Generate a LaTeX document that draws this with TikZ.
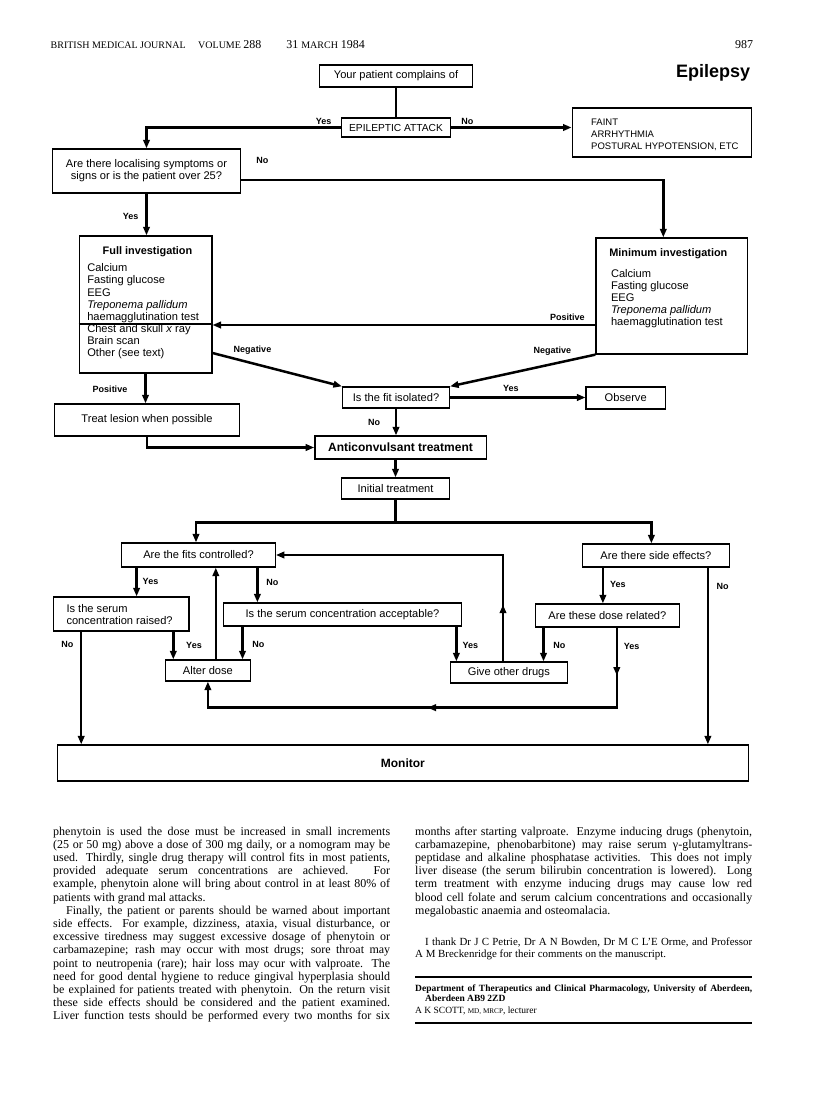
\documentclass[tikz,border=0pt]{standalone}
\usepackage{fontspec}
\setmainfont{Liberation Serif}
\newfontfamily\chartfont{Liberation Sans}
\usetikzlibrary{arrows.meta,decorations.markings}

% one justified line of a column
\newcommand{\jl}[1]{\hbox to \hsize{#1}}
\newcommand{\bodyfont}{\fontsize{12}{13.2}\selectfont}
\newcommand{\capsz}[1]{{\fontsize{7.2}{9}\selectfont #1}}

\begin{document}
\begin{tikzpicture}[x=1pt, y=-1pt,
  box/.style={draw, line width=1.3pt, inner sep=0pt, font=\chartfont\fontsize{11.1}{12.1}\selectfont},
  boldbox/.style={box, font=\chartfont\bfseries\fontsize{12}{14}\selectfont},
  txt/.style={inner sep=0pt, anchor=base west, font=\chartfont\fontsize{11.1}{12.1}\selectfont},
  lbl/.style={inner sep=0pt, font=\chartfont\bfseries\fontsize{9}{10}\selectfont},
  conn/.style={line width=2.5pt},
  tip/.style={-{Triangle[length=8.5pt,width=6.5pt]}},
  plain/.style={inner sep=0pt, anchor=base west}
]
\fill[white] (0,0) rectangle (816,1095);
\useasboundingbox (0,0) rectangle (816,1095);

% running head
\node[plain, font=\fontsize{10}{12}\selectfont] (hjournal) at (50.5,48) {BRITISH MEDICAL JOURNAL};
\node[plain, font=\fontsize{10}{12}\selectfont] (hvolume) at (198,48) {VOLUME {\fontsize{12}{14}\selectfont 288}};
\node[plain, font=\fontsize{12}{14}\selectfont] (hdate) at (286.1,48) {31 {\fontsize{10}{12}\selectfont MARCH} 1984};
\node[plain, anchor=base east, font=\fontsize{12}{14}\selectfont] (hpage) at (753.4,48) {987};
\node[plain, anchor=base east, font=\chartfont\bfseries\fontsize{18}{20}\selectfont] (title) at (750.4,77.5) {Epilepsy};

% boxes, top half
\node[box, minimum width=152.5pt, minimum height=22pt] (complain) at (396,76) {Your patient complains of};
\node[box, minimum width=108.9pt, minimum height=19pt, font=\chartfont\fontsize{10.2}{12}\selectfont] (epi) at (396,127.5) {EPILEPTIC ATTACK};
\node[box, minimum width=179.2pt, minimum height=49pt] (faint) at (661.8,132.5) {};
\node[txt, font=\chartfont\fontsize{9.5}{12}\selectfont] (fainttxt) at (591,125) {\parbox[t]{160pt}{FAINT\\ARRHYTHMIA\\POSTURAL HYPOTENSION, ETC}};
\node[box, minimum width=188.1pt, minimum height=44pt, align=center] (loc) at (146.5,171) {Are there localising symptoms or\\signs or is the patient over 25?};
\node[box, minimum width=132.7pt, minimum height=137pt] (full) at (145.5,304.5) {};
\node[txt, anchor=base, font=\chartfont\bfseries\fontsize{10.9}{12}\selectfont] (fulltitle) at (147.5,254.5) {Full investigation};
\node[txt] (fulllist) at (87.1,271.8) {\parbox[t]{140pt}{Calcium\\Fasting glucose\\EEG\\\textit{Treponema pallidum}\\haemagglutination test\\Chest and skull \textit{x} ray\\Brain scan\\Other (see text)}};
\draw[line width=1.3pt] ([yshift=-19.5pt]full.west) -- ([yshift=-19.5pt]full.east);
\node[box, minimum width=151.5pt, minimum height=116pt] (mini) at (671.7,296) {};
\node[txt, anchor=base, font=\chartfont\bfseries\fontsize{10.9}{12}\selectfont] (minititle) at (668.3,256.5) {Minimum investigation};
\node[txt] (minilist) at (610.8,277) {\parbox[t]{140pt}{Calcium\\Fasting glucose\\EEG\\\textit{Treponema pallidum}\\haemagglutination test}};
\node[box, minimum width=106.9pt, minimum height=21pt] (fit) at (396,397.5) {Is the fit isolated?};
\node[box, minimum width=79.2pt, minimum height=22pt] (observe) at (625.7,398) {Observe};
\node[box, minimum width=185.1pt, minimum height=32pt] (treat) at (147,420) {Treat lesion when possible};
\node[boldbox, minimum width=171.3pt, minimum height=23pt] (anti) at (400.5,447.5) {Anticonvulsant treatment};

% boxes, treatment half
\node[box, minimum width=107.9pt, minimum height=21pt] (init) at (395.5,488.5) {Initial treatment};
\node[box, minimum width=153.5pt, minimum height=24pt] (ctrl) at (198.5,555) {Are the fits controlled?};
\node[box, minimum width=147.5pt, minimum height=23pt] (side) at (655.9,555.5) {Are there side effects?};
\node[box, minimum width=135.6pt, minimum height=34pt] (raised) at (121.3,614) {};
\node[txt, font=\chartfont\fontsize{11.1}{11.5}\selectfont] (raisedtxt) at (66.3,612.5) {\parbox[t]{120pt}{Is the serum\\concentration raised?}};
\node[box, minimum width=237.6pt, minimum height=23pt] (accept) at (342.5,614.5) {Is the serum concentration acceptable?};
\node[box, minimum width=143.6pt, minimum height=23pt] (dose) at (607.4,615.5) {Are these dose related?};
\node[box, minimum width=85.1pt, minimum height=21pt] (alter) at (207.9,670.5) {Alter dose};
\node[box, minimum width=116.8pt, minimum height=21pt] (give) at (508.9,672.5) {Give other drugs};
\node[boldbox, minimum width=691pt, minimum height=36pt] (monitor) at (402.9,763) {Monitor};

% connectors, top half
\draw[conn] (complain.south) -- (complain.south |- epi.north);
\draw[conn,tip] (epi.west) -| (loc.north);
\draw[conn,tip] (epi.east) -- (epi.east -| faint.west);
\draw[conn,tip] ([yshift=-9pt]loc.east) -| ([xshift=-8.4pt]mini.north);
\draw[conn,tip] (loc.south) -- (loc.south |- full.north);
\draw[conn,tip] ([yshift=-29pt]mini.west) -- ([yshift=-29pt]mini.west -| full.east);
\draw[conn,tip] ([yshift=-48.5pt]full.east) -- (fit.north west);
\draw[conn,tip] (mini.south west) -- (fit.north east);
\draw[conn,tip] (fit.east) -- (fit.east -| observe.west);
\draw[conn,tip] (full.south) -- (full.south |- treat.north);
\draw[conn,tip] (fit.south) -- (fit.south |- anti.north);
\draw[conn,tip] (treat.south) |- (anti.west);
\draw[conn,tip] (anti.south -| init.north) -- (init.north);

% connectors, treatment half
\coordinate (split) at ([yshift=-23pt]init.south);
\draw[conn] (init.south) -- (split);
\draw[conn,tip] (split) -| ([xshift=-2.5pt]ctrl.north);
\draw[conn,tip] (split) -| ([xshift=-4.5pt]side.north);
\draw[conn,tip] ([xshift=-61.9pt]ctrl.south) -- ([xshift=-61.9pt]ctrl.south |- raised.north);
\draw[conn,tip] ([xshift=58.9pt]ctrl.south) -- ([xshift=58.9pt]ctrl.south |- accept.north);
\draw[conn,tip] ([xshift=-40.1pt]raised.south) -- ([xshift=-40.1pt]raised.south |- monitor.north);
\draw[conn,tip] ([xshift=52pt]raised.south) -- ([xshift=52pt]raised.south |- alter.north);
\draw[conn,tip] ([xshift=7.9pt]alter.north) -- ([xshift=7.9pt]alter.north |- ctrl.south);
\draw[conn,tip] ([xshift=-100pt]accept.south) -- ([xshift=-100pt]accept.south |- alter.north);
\draw[conn,tip] ([xshift=113.9pt]accept.south) -- ([xshift=113.9pt]accept.south |- give.north);
\draw[conn,tip,postaction={decorate}, decoration={markings,
    mark=at position 0.17 with {\arrow{Triangle[length=8.5pt,width=6.5pt]}}}]
  ([xshift=-5.9pt]give.north) |- (ctrl.east);
\draw[conn,tip] ([xshift=-63.9pt]dose.south) -- ([xshift=-63.9pt]dose.south |- give.north);
\draw[conn,tip,postaction={decorate}, decoration={markings,
    mark=at position 0.093 with {\arrow{Triangle[length=8.5pt,width=6.5pt]}},
    mark=at position 0.523 with {\arrow{Triangle[length=8.5pt,width=6.5pt]}}}]
  ([xshift=9.4pt]dose.south) -- ++(0,80) -| (alter.south);
\draw[conn,tip] ([xshift=-53pt]side.south) -- ([xshift=-53pt]side.south |- dose.north);
\draw[conn,tip] ([xshift=52pt]side.south) -- ([xshift=52pt]side.south |- monitor.north);

% branch labels
\node[lbl] (lyes1) at (323.7,121) {Yes};
\node[lbl] (lno1) at (467.3,121) {No};
\node[lbl] (lno2) at (262.4,160) {No};
\node[lbl] (lyes2) at (130.7,216) {Yes};
\node[lbl] (lpos1) at (567.3,317) {Positive};
\node[lbl] (lneg1) at (252.5,350) {Negative};
\node[lbl] (lneg2) at (552.4,351) {Negative};
\node[lbl] (lyes3) at (510.8,388) {Yes};
\node[lbl] (lpos2) at (110,389) {Positive};
\node[lbl] (lno3) at (374.2,422) {No};
\node[lbl] (lyes4) at (150.5,581) {Yes};
\node[lbl] (lno4) at (272.3,582) {No};
\node[lbl] (lyes5) at (617.8,584) {Yes};
\node[lbl] (lno5) at (722.7,586) {No};
\node[lbl] (lno6) at (67.3,644) {No};
\node[lbl] (lyes6) at (194,645) {Yes};
\node[lbl] (lno7) at (258.4,644) {No};
\node[lbl] (lyes7) at (470.3,645) {Yes};
\node[lbl] (lno8) at (559.4,645) {No};
\node[lbl] (lyes8) at (631.6,646) {Yes};

% article text below the chart
\node[plain] (leftcol) at (53,835) {\parbox[t]{337pt}{\bodyfont
\jl{phenytoin is used the dose must be increased in small increments}
\jl{(25 or 50 mg) above a dose of 300 mg daily, or a nomogram may be}
\jl{used. Thirdly, single drug therapy will control fits in most patients,}
\jl{provided adequate serum concentrations are achieved. For}
\jl{example, phenytoin alone will bring about control in at least 80\% of}
\jl{patients with grand mal attacks.\hfil}
\jl{\hskip 13pt Finally, the patient or parents should be warned about important}
\jl{side effects. For example, dizziness, ataxia, visual disturbance, or}
\jl{excessive tiredness may suggest excessive dosage of phenytoin or}
\jl{carbamazepine; rash may occur with most drugs; sore throat may}
\jl{point to neutropenia (rare); hair loss may ocur with valproate. The}
\jl{need for good dental hygiene to reduce gingival hyperplasia should}
\jl{be explained for patients treated with phenytoin. On the return visit}
\jl{these side effects should be considered and the patient examined.}
\jl{Liver function tests should be performed every two months for six}}};
\node[plain] (rightcol) at (415,835) {\parbox[t]{337pt}{\bodyfont
\jl{months after starting valproate. Enzyme inducing drugs (phenytoin,}
\jl{carbamazepine, phenobarbitone) may raise serum γ-glutamyltrans-}
\jl{peptidase and alkaline phosphatase activities. This does not imply}
\jl{liver disease (the serum bilirubin concentration is lowered). Long}
\jl{term treatment with enzyme inducing drugs may cause low red}
\jl{blood cell folate and serum calcium concentrations and occasionally}
\jl{megalobastic anaemia and osteomalacia.\hfil}}};
\node[plain] (thanks) at (415,945) {\parbox[t]{337pt}{\fontsize{10.9}{12.3}\selectfont
\jl{\hskip 10pt I thank Dr J C Petrie, Dr A N Bowden, Dr M C L’E Orme, and Professor}
\jl{A M Breckenridge for their comments on the manuscript.\hfil}}};
\draw[line width=1.6pt] (415,977) -- (752,977);
\node[plain] (address) at (415,991) {\parbox[t]{337pt}{\fontsize{9.5}{10}\selectfont\bfseries
\jl{Department of Therapeutics and Clinical Pharmacology, University of Aberdeen,}
\jl{\hskip 10pt Aberdeen AB9 2ZD\hfil}}};
\node[plain, font=\fontsize{9.5}{11}\selectfont] (author) at (415,1013) {A K SCOTT, \capsz{MD, MRCP}, lecturer};
\draw[line width=1.4pt] (415,1023) -- (752,1023);
\end{tikzpicture}
\end{document}
